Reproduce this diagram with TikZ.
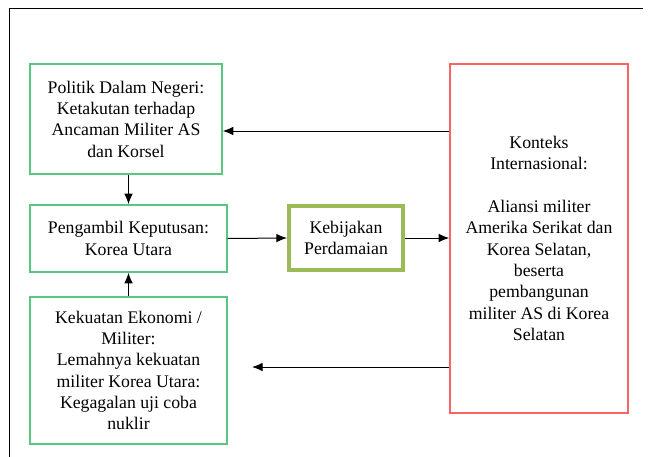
\documentclass[tikz,border=0pt]{standalone}
\usepackage{fontspec}
\setmainfont{Liberation Serif}
\usetikzlibrary{arrows.meta}
\definecolor{boxgreen}{RGB}{88,200,128}
\definecolor{boxred}{RGB}{250,100,100}
\definecolor{boxolive}{RGB}{155,187,89}
\begin{document}
\begin{tikzpicture}[x=0.75pt,y=-0.75pt,
  txt/.style={align=center,font=\fontsize{13.3}{16}\selectfont,inner sep=0pt},
  gbox/.style={txt,draw=boxgreen,line width=1.1pt},
  rbox/.style={txt,draw=boxred,line width=1.1pt},
  obox/.style={txt,draw=boxolive,line width=3pt},
  arr/.style={draw=black,line width=0.75pt,-{Latex[length=8pt,width=6.5pt]}}]
\useasboundingbox (0,0) rectangle (650,457);
\draw[line width=0.75pt] (9,457) -- (9,8) -- (643,8);
\node[gbox,minimum width=144pt,minimum height=82.5pt] (A) at (126,119)
  {Politik Dalam Negeri:\\Ketakutan terhadap\\Ancaman Militer AS\\dan Korsel};
\node[gbox,minimum width=147.75pt,minimum height=50.25pt] (B) at (128.5,238.5)
  {Pengambil Keputusan:\\Korea Utara};
\node[gbox,minimum width=147.75pt,minimum height=110.25pt] (C) at (128.5,370.5)
  {Kekuatan Ekonomi /\\Militer:\\Lemahnya kekuatan\\militer Korea Utara:\\Kegagalan uji coba\\nuklir};
\node[obox,minimum width=85.5pt,minimum height=48pt] (D) at (346,238)
  {Kebijakan\\Perdamaian};
\node[rbox,minimum width=133.5pt,minimum height=261.75pt] (E) at (539,238.5)
  {Konteks\\Internasional:\\[16pt]Aliansi militer\\Amerika Serikat dan\\Korea Selatan,\\beserta\\pembangunan\\militer AS di Korea\\Selatan};
\coordinate (y1) at (0,131);
\coordinate (y2) at (0,367);
\coordinate (c2) at (252,367);
\draw[arr] (E.west |- y1) -- (A.east |- y1);
\draw[arr] (A.south -| B.north) -- (B.north);
\draw[arr] (C.north) -- (B.south);
\draw[arr] (B.east) -- (D.west);
\draw[arr] (D.east) -- (E.west |- D.east);
\draw[arr] (E.west |- y2) -- (c2);
\end{tikzpicture}
\end{document}
